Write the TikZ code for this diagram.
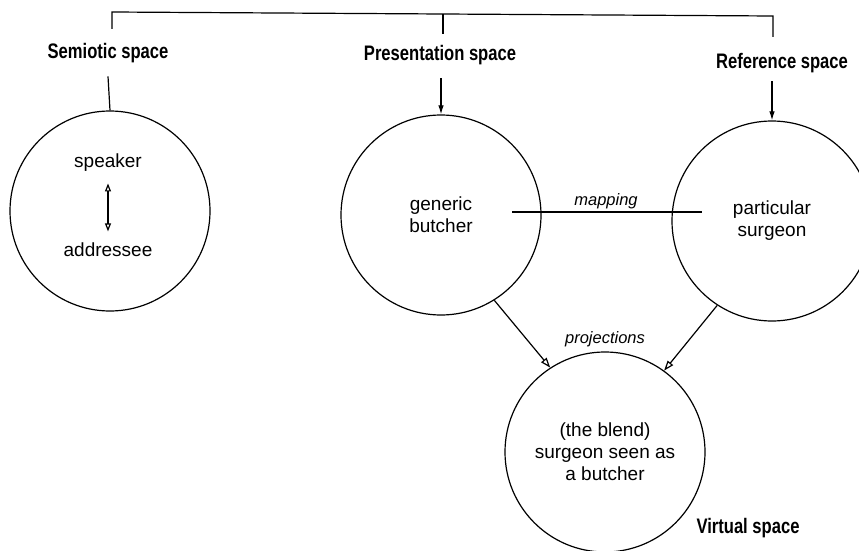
\documentclass[tikz,border=0pt]{standalone}
\usepackage{fontspec}
\setmainfont{Liberation Sans}
\newfontfamily\headfont[FakeStretch=0.79]{Liberation Sans}
\usetikzlibrary{arrows.meta,calc}

\begin{document}
\begin{tikzpicture}[x=1pt,y=1pt,
  every path/.style={line width=1.2pt},
  spacecircle/.style={circle, draw, minimum size=200pt, inner sep=0pt,
    align=center, font=\fontsize{19}{22}\selectfont},
  innertext/.style={font=\fontsize{19}{22}\selectfont, inner sep=0pt},
  spacelabel/.style={font=\headfont\bfseries\fontsize{21}{24}\selectfont, inner sep=0pt},
  linklabel/.style={font=\itshape\fontsize{16.5}{20}\selectfont, inner sep=0pt},
  feed/.style={-{Latex[length=9pt,width=5.5pt]}},
  project/.style={-{Triangle[open,length=10pt,width=7pt]}},
  bothways/.style={{Triangle[open,length=8pt,width=6pt]}-{Triangle[open,length=8pt,width=6pt]}}
]
\useasboundingbox (0,0) rectangle (859,550);

% the four mental spaces
\node[spacecircle] (sem) at (110,339) {};
\node[spacecircle] (pres) at (441,335) {generic\\butcher};
\node[spacecircle] (ref) at (772,329) {particular\\surgeon};
\node[spacecircle] (blend) at (605,98) {(the blend)\\surgeon seen as\\a butcher};

% space names
\node[spacelabel] (semlab) at (108,497) {Semiotic space};
\node[spacelabel] (preslab) at (440,495) {Presentation space};
\node[spacelabel] (reflab) at (782,487) {Reference space};
\node[spacelabel] (virtlab) at (748,22) {Virtual space};

% speaker and addressee
\node[innertext] (spk) at (108,387) {speaker};
\node[innertext] (adr) at (108,300) {addressee};
\draw[bothways] ([yshift=-11pt]spk.south) -- ([yshift=11pt]adr.north);

% bracket joining the three input spaces
\coordinate (legL) at (112,521);
\coordinate (legM) at (443,516);
\coordinate (legR) at (773,513);
\coordinate (topL) at (112,538);
\coordinate (topM) at (443,536);
\coordinate (topR) at (773,534);
\draw (legL) -- (topL) -- (topR) -- (legR);
\draw (legM) -- (topM);

% labels feeding their circles
\draw ([yshift=-13pt]semlab.south) -- (sem.north);
\draw[feed] ([yshift=-13pt]preslab.south -| pres.north) -- (pres.north);
\draw[feed] ([yshift=-8pt]reflab.south -| ref.north) -- (ref.north);

% cross-space mapping
\coordinate (mapL) at (512,338);
\coordinate (mapR) at (702,338);
\draw (mapL) -- (mapR);
\node[linklabel] (maplab) at (606,349) {mapping};

% projections into the blend
\draw[project] (pres.-58.8) -- (blend.123.7);
\draw[project] (ref.-123.4) -- (blend.54.5);
\node[linklabel] (projlab) at (605,211) {projections};
\end{tikzpicture}
\end{document}
